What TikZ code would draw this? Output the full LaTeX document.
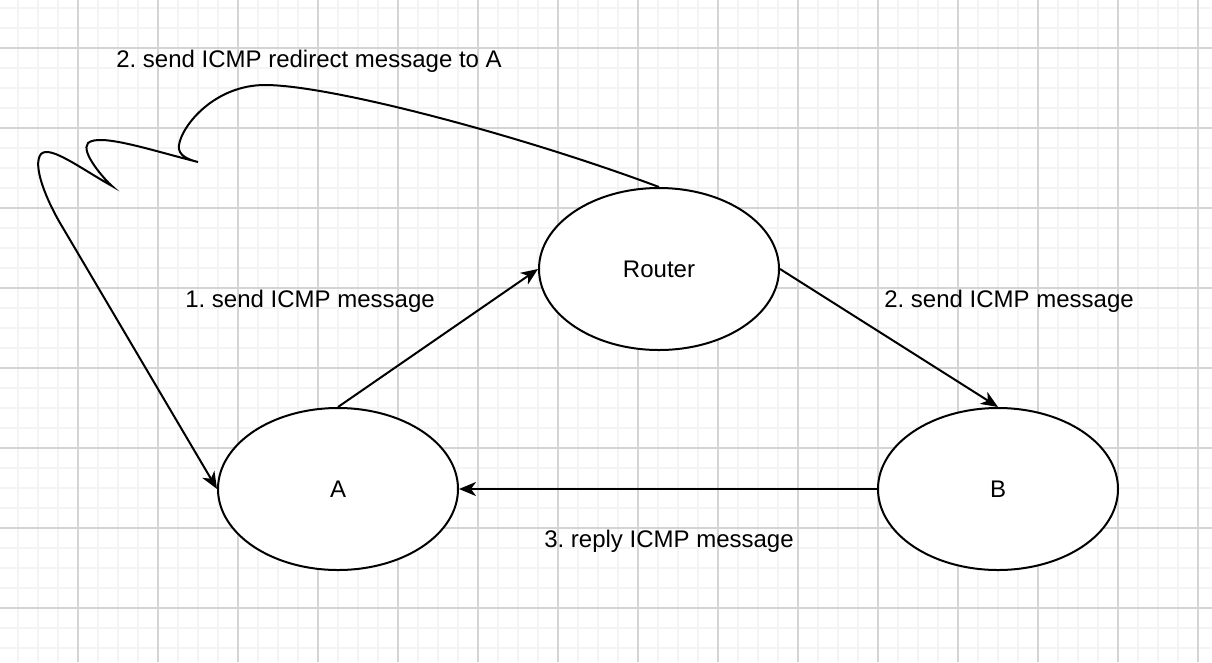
\documentclass[tikz,border=0pt]{standalone}
\usepackage{fontspec}
\setmainfont{Liberation Sans}
\usetikzlibrary{arrows.meta,shapes.geometric}
\definecolor{gridminor}{RGB}{244,244,244}
\definecolor{gridmajor}{RGB}{212,212,212}
\tikzset{
	host/.style={ellipse, draw, fill=white, line width=2pt, minimum width=240pt, minimum height=162pt, inner sep=0pt, font=\fontsize{24}{28}\selectfont},
	msg/.style={anchor=base, inner sep=0pt, font=\fontsize{24}{28}\selectfont},
	arr/.style={line width=2pt, -{Stealth[length=17pt,width=14pt,inset=5pt]}}
}
\frenchspacing
\begin{document}
\begin{tikzpicture}[x=1pt, y=-1pt]
			\useasboundingbox (0,0) rectangle (1212,662);
			\fill[white] (0,0) rectangle (1212,662);
			%grid
			\foreach \x in {-2, 18, ..., 1212}{
				\draw[line width=1.5pt, gridminor] (\x, 0)--(\x, 662);
			}
			\foreach \y in {8, 28, ..., 662}{
				\draw[line width=1.5pt, gridminor] (0, \y)--(1212, \y);
			}
			\foreach \x in {78, 158, ..., 1212}{
				\draw[line width=1.5pt, gridmajor] (\x, 0)--(\x, 662);
			}
			\foreach \y in {48, 128, ..., 662}{
				\draw[line width=1.5pt, gridmajor] (0, \y)--(1212, \y);
			}
			
			%hosts
			\node[host] (R) at (659, 269){Router};
			\node[host] (A) at (338, 489){A};
			\node[host] (B) at (998, 489){B};
			
			\draw[arr] (A.north) -- (R.west);
			\draw[arr] (R.east) -- (B.north);
			\draw[arr] (B.west) -- (A.east);
			\draw[arr] (R.north) .. controls (520,135) and (330,85) .. (265,85)
				.. controls (215,85) and (182,125) .. (179,145)
				.. controls (177,156) and (190,160) .. (198,162)
				.. controls (150,150) and (100,133) .. (88,143)
				.. controls (80,152) and (105,180) .. (112,186)
				.. controls (80,168) and (50,145) .. (41,154)
				.. controls (32,165) and (46,200) .. (63,228)
				-- (A.west);
			
			%labels
			\node[msg] (redirect) at (309, 67){2. send ICMP redirect message to A};
			\node[msg] (send1) at (310, 307){1. send ICMP message};
			\node[msg] (send2) at (1009, 307){2. send ICMP message};
			\node[msg] (reply) at (669, 547){3. reply ICMP message};
		\end{tikzpicture}
\end{document}
